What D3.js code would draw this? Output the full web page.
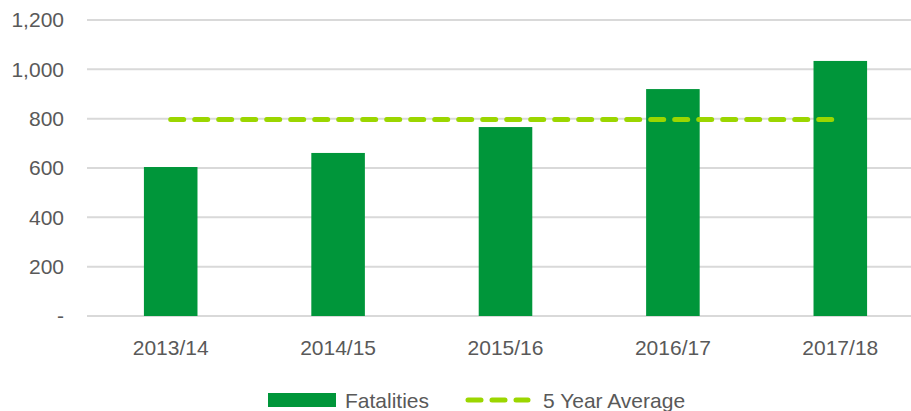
<!DOCTYPE html>
<html>
<head>
<meta charset="utf-8">
<script src="https://cdn.jsdelivr.net/npm/d3@7"></script>
<style>
  body { margin: 0; background: #fff; }
  svg { display: block; font-family: "Liberation Sans", Arial, sans-serif; }
</style>
</head>
<body>
<svg id="chart"></svg>
<script>
// data
var years = ["2013/14", "2014/15", "2015/16", "2016/17", "2017/18"];
var fatalities = [604, 661, 766, 920, 1034];
var fiveYearAvg = [797, 797, 797, 797, 797];
var yTicks = [0, 200, 400, 600, 800, 1000, 1200];

var width = 911, height = 411;
var fontSize = "21px";

var svg = d3.select("#chart")
    .attr("width", width)
    .attr("height", height);

// plot area runs a little past the right edge, as in the original
var x = d3.scaleBand()
    .domain(years)
    .range([87, 924])
    .paddingInner(0.68)
    .paddingOuter(0.34);

var y = d3.scaleLinear()
    .domain([0, 1200])
    .range([316, 20]);

var textColor = "#595959";
var barColor = "#00963a";
var avgColor = "#9bd600";

// gridlines
svg.append("g")
    .selectAll("line")
    .data(yTicks)
    .enter()
    .append("line")
        .attr("x1", 87)
        .attr("x2", width)
        .attr("y1", d => y(d))
        .attr("y2", d => y(d))
        .attr("stroke", "#d9d9d9")
        .attr("stroke-width", 2);

// y axis labels
var fmt = d3.format(",");
svg.append("g")
    .selectAll("text")
    .data(yTicks)
    .enter()
    .append("text")
        .attr("x", 64)
        .attr("y", d => y(d))
        .attr("dy", "0.35em")
        .attr("text-anchor", "end")
        .attr("fill", textColor)
        .style("font-size", fontSize)
        .text(d => d === 0 ? "-" : fmt(d));

// bars
svg.append("g")
    .selectAll("rect")
    .data(years)
    .enter()
    .append("rect")
        .attr("x", d => x(d))
        .attr("width", x.bandwidth())
        .attr("y", (d, i) => y(fatalities[i]))
        .attr("height", (d, i) => y(0) - y(fatalities[i]))
        .attr("fill", barColor);

// 5 year average line
var line = d3.line()
    .x((d, i) => x(years[i]) + x.bandwidth() / 2)
    .y(d => y(d));

svg.append("path")
    .datum(fiveYearAvg)
    .attr("d", line)
    .attr("fill", "none")
    .attr("stroke", avgColor)
    .attr("stroke-width", 5)
    .attr("stroke-linecap", "round")
    .attr("stroke-dasharray", "13,11");

// x axis labels
svg.append("g")
    .selectAll("text")
    .data(years)
    .enter()
    .append("text")
        .attr("x", d => x(d) + x.bandwidth() / 2)
        .attr("y", 355)
        .attr("text-anchor", "middle")
        .attr("fill", textColor)
        .style("font-size", fontSize)
        .text(d => d);

// legend
var legend = svg.append("g");
legend.append("rect")
    .attr("x", 268).attr("y", 393)
    .attr("width", 68).attr("height", 14)
    .attr("fill", barColor);
legend.append("text")
    .attr("x", 345).attr("y", 408)
    .attr("fill", textColor)
    .style("font-size", fontSize)
    .text("Fatalities");
legend.append("line")
    .attr("x1", 468).attr("x2", 528)
    .attr("y1", 400).attr("y2", 400)
    .attr("stroke", avgColor)
    .attr("stroke-width", 5)
    .attr("stroke-linecap", "round")
    .attr("stroke-dasharray", "13,11");
legend.append("text")
    .attr("x", 543).attr("y", 408)
    .attr("fill", textColor)
    .style("font-size", fontSize)
    .text("5 Year Average");
</script>
</body>
</html>
